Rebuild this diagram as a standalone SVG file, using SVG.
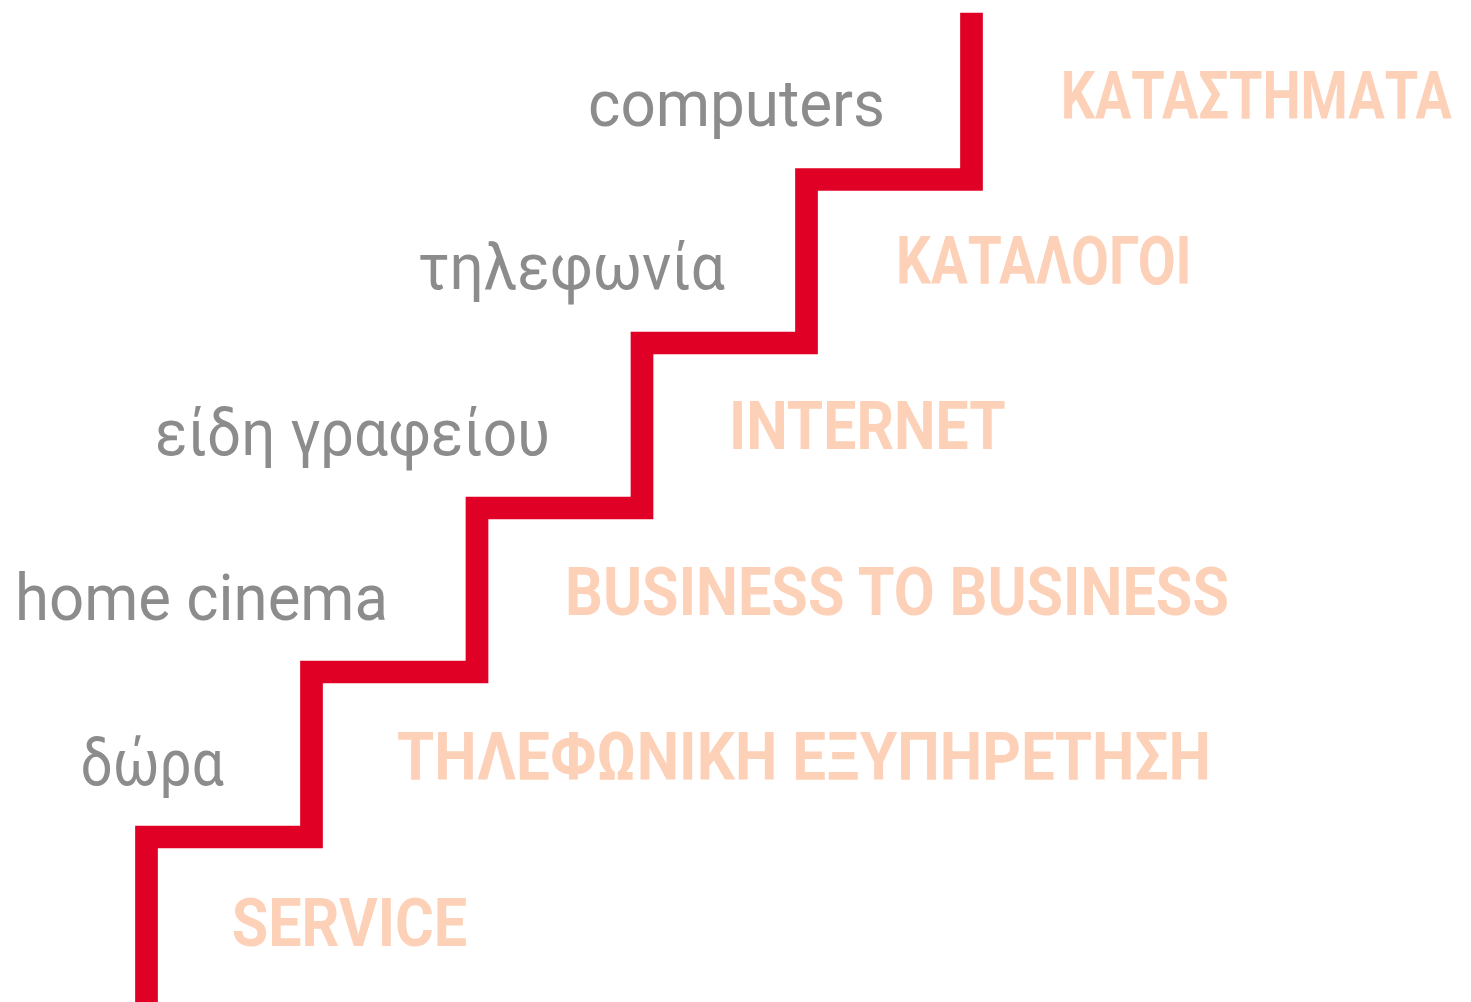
<svg xmlns="http://www.w3.org/2000/svg" width="1471" height="1002" viewBox="0 0 1471 1002">
  <style>
    .stair { fill: none; stroke: #E10025; stroke-width: 22.7; stroke-linejoin: miter; stroke-linecap: butt; }
    .item { font-family: Roboto, "DejaVu Sans", sans-serif; font-weight: 400; font-size: 65px; fill: #8C8C8C; }
    .chan { font-family: Roboto, "Liberation Sans", sans-serif; font-weight: 700; font-size: 67px; fill: #FDD1B8; }
  </style>
  <rect width="1471" height="1002" fill="#FFFFFF"/>
  <g id="connectors">
    <path class="stair" d="M146.5 1002 V837 H311.5 V672 H477 V508 H642 V343 H806.5 V179.5 H971.5 V12.7"/>
  </g>
  <g id="computers"><text class="item" x="588" y="126" textLength="297" lengthAdjust="spacingAndGlyphs">computers</text></g>
  <g id="tilefonia"><text class="item" x="418" y="289" textLength="307" lengthAdjust="spacingAndGlyphs">τηλεφωνία</text></g>
  <g id="eidi-grafeiou"><text class="item" x="155" y="455" textLength="395" lengthAdjust="spacingAndGlyphs">είδη γραφείου</text></g>
  <g id="home-cinema"><text class="item" x="15" y="620" textLength="373" lengthAdjust="spacingAndGlyphs">home cinema</text></g>
  <g id="dora"><text class="item" x="80.5" y="785" textLength="143.5" lengthAdjust="spacingAndGlyphs">δώρα</text></g>
  <g id="katastimata" transform="translate(1060.7 119) scale(0.8 1)"><text class="chan" x="0" y="0" textLength="488.75" lengthAdjust="spacingAndGlyphs">ΚΑΤΑΣΤΗΜΑΤΑ</text></g>
  <g id="katalogoi"><text class="chan" x="896" y="284.3" textLength="295.7" lengthAdjust="spacingAndGlyphs">ΚΑΤΑΛΟΓΟΙ</text></g>
  <g id="internet"><text class="chan" x="729" y="449.3" textLength="276.7" lengthAdjust="spacingAndGlyphs">INTERNET</text></g>
  <g id="b2b"><text class="chan" x="565" y="615" textLength="664" lengthAdjust="spacingAndGlyphs">BUSINESS TO BUSINESS</text></g>
  <g id="tilefoniki"><text class="chan" x="397" y="780" textLength="814" lengthAdjust="spacingAndGlyphs">ΤΗΛΕΦΩΝΙΚΗ ΕΞΥΠΗΡΕΤΗΣΗ</text></g>
  <g id="service"><text class="chan" x="231.7" y="945.7" textLength="235.5" lengthAdjust="spacingAndGlyphs">SERVICE</text></g>
</svg>
